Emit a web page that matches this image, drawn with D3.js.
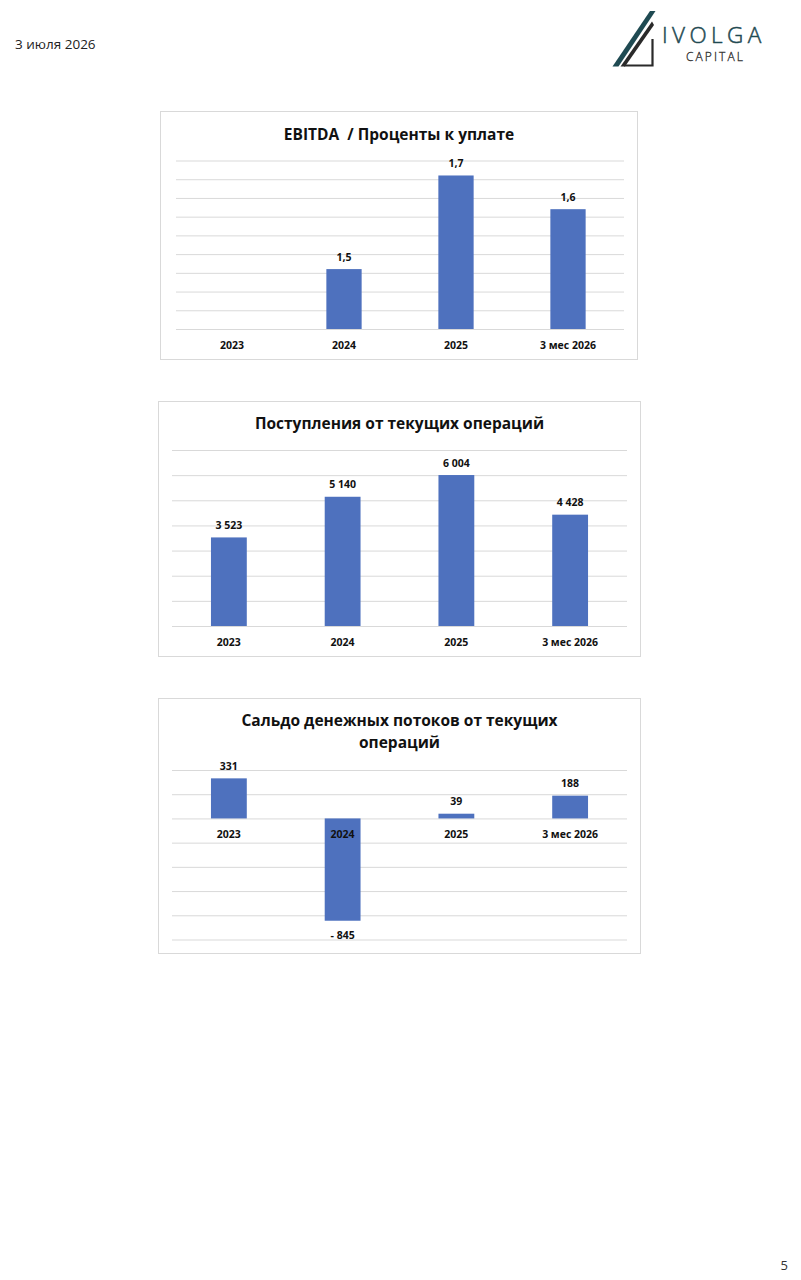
<!DOCTYPE html>
<html>
<head>
<meta charset="utf-8">
<script src="https://cdn.jsdelivr.net/npm/d3@7"></script>
<style>
  body { margin: 0; background: #fff; }
  svg text { font-family: "Open Sans", "Noto Sans", sans-serif; white-space: pre; }
</style>
</head>
<body>
<svg id="page" width="801" height="1280"></svg>
<script>
// ---- data ----
const categories = ["2023", "2024", "2025", "3 мес 2026"];
const ebitdaCoverage = [null, 1.46, 1.71, 1.62];      // EBITDA / interest payable
const operatingInflows = [3523, 5140, 6004, 4428];    // поступления от текущих операций
const operatingNetFlow = [331, -845, 39, 188];        // сальдо от текущих операций
const pageDate = "3 июля 2026";
const pageNumber = "5";

const ru = d3.formatLocale({decimal: ",", thousands: "\u00a0", grouping: [3], currency: ["", ""], minus: "- "});

const svg = d3.select("#page");
const barColor = "#4e71be";

// ===================== header =====================
svg.append("text").attr("x", 15).attr("y", 49)
  .attr("font-size", 13.5).attr("fill", "#222").text(pageDate);

svg.append("text").attr("x", 788).attr("y", 1270).attr("text-anchor", "end")
  .attr("font-size", 13).attr("fill", "#333").text(pageNumber);

// logo
const logo = svg.append("g");
logo.append("polygon").attr("points", "612.5,66.5 618.5,66.5 655.5,11 650,11").attr("fill", "#1f4a52");
logo.append("polygon").attr("points", "620.5,66.5 625,66.5 654,25 652,21.5").attr("fill", "#2a2a2a");
logo.append("path").attr("d", "M624,65.5 H652.5 V39")
  .attr("fill", "none").attr("stroke", "#2a2a2a").attr("stroke-width", 2.2);
logo.append("text").attr("x", 662).attr("y", 43)
  .attr("font-family", "DejaVu Sans").attr("font-weight", 200).attr("font-size", 22.5)
  .attr("letter-spacing", 4.4).attr("fill", "#1f4a52")
  .attr("stroke", "#1f4a52").attr("stroke-width", 0.5).text("IVOLGA");
logo.append("text").attr("x", 686).attr("y", 61)
  .attr("font-family", "DejaVu Sans").attr("font-weight", 200).attr("font-size", 12)
  .attr("letter-spacing", 2.1).attr("fill", "#2a2a2a")
  .attr("stroke", "#2a2a2a").attr("stroke-width", 0.3).text("CAPITAL");

// ===================== charts =====================
function barChart(cfg) {
  const g = svg.append("g");

  g.append("rect")
    .attr("x", cfg.box[0]).attr("y", cfg.box[1])
    .attr("width", cfg.box[2]).attr("height", cfg.box[3])
    .attr("fill", "#fff").attr("stroke", "#d9d9d9");

  cfg.title.forEach((line, i) => {
    g.append("text")
      .attr("x", cfg.box[0] + cfg.box[2] / 2).attr("y", cfg.titleY + i * 22)
      .attr("text-anchor", "middle").attr("font-size", 15.5).attr("font-weight", 700)
      .attr("fill", "#111").text(line);
  });

  const x = d3.scaleBand().domain(categories)
    .range([cfg.x0, cfg.x1]).paddingInner(0.685).paddingOuter(0.3425);
  const y = d3.scaleLinear().domain(cfg.domain).range([cfg.yBottom, cfg.yTop]);

  // gridlines
  const grid = g.append("g")
    .attr("transform", "translate(" + cfg.x0 + ",0)")
    .call(d3.axisLeft(y).ticks(cfg.ticks).tickSize(-(cfg.x1 - cfg.x0)).tickFormat(""));
  grid.select(".domain").remove();
  grid.selectAll("line").attr("stroke", "#d9d9d9");

  const base = y(Math.max(cfg.domain[0], 0));
  const rows = categories.map((c, i) => ({c: c, v: cfg.values[i]})).filter(d => d.v != null);

  g.selectAll(".bar").data(rows).enter().append("rect")
    .attr("x", d => x(d.c)).attr("width", x.bandwidth())
    .attr("y", d => Math.min(y(d.v), base))
    .attr("height", d => Math.abs(base - y(d.v)))
    .attr("fill", barColor);

  // category labels
  g.selectAll(".cat").data(categories).enter().append("text")
    .attr("x", d => x(d) + x.bandwidth() / 2).attr("y", cfg.catY)
    .attr("dy", "0.35em").attr("text-anchor", "middle")
    .attr("font-size", 10.5).attr("font-weight", 700).attr("fill", "#111").text(d => d);

  // value labels
  g.selectAll(".val").data(rows).enter().append("text")
    .attr("x", d => x(d.c) + x.bandwidth() / 2)
    .attr("y", d => d.v >= 0 ? y(d.v) - 12 : y(d.v) + 15)
    .attr("dy", "0.35em").attr("text-anchor", "middle")
    .attr("font-size", 10.5).attr("font-weight", 700).attr("fill", "#111")
    .text(d => ru.format(cfg.fmt)(d.v));
}

barChart({
  title: ["EBITDA  / Проценты к уплате"], values: ebitdaCoverage, fmt: ".1f",
  box: [160.5, 111.5, 477, 248], titleY: 140,
  x0: 176, x1: 624, yTop: 160.5, yBottom: 329, domain: [1.3, 1.75], ticks: 9, catY: 345
});

barChart({
  title: ["Поступления от текущих операций"], values: operatingInflows, fmt: ",.0f",
  box: [158.5, 401.5, 482, 255], titleY: 429,
  x0: 172, x1: 627, yTop: 450, yBottom: 626, domain: [0, 7000], ticks: 7, catY: 642
});

barChart({
  title: ["Сальдо денежных потоков от текущих", "операций"], values: operatingNetFlow, fmt: ",.0f",
  box: [158.5, 698.5, 482, 255], titleY: 726,
  x0: 172, x1: 627, yTop: 770, yBottom: 939.5, domain: [-1000, 400], ticks: 7, catY: 834
});
</script>
</body>
</html>
